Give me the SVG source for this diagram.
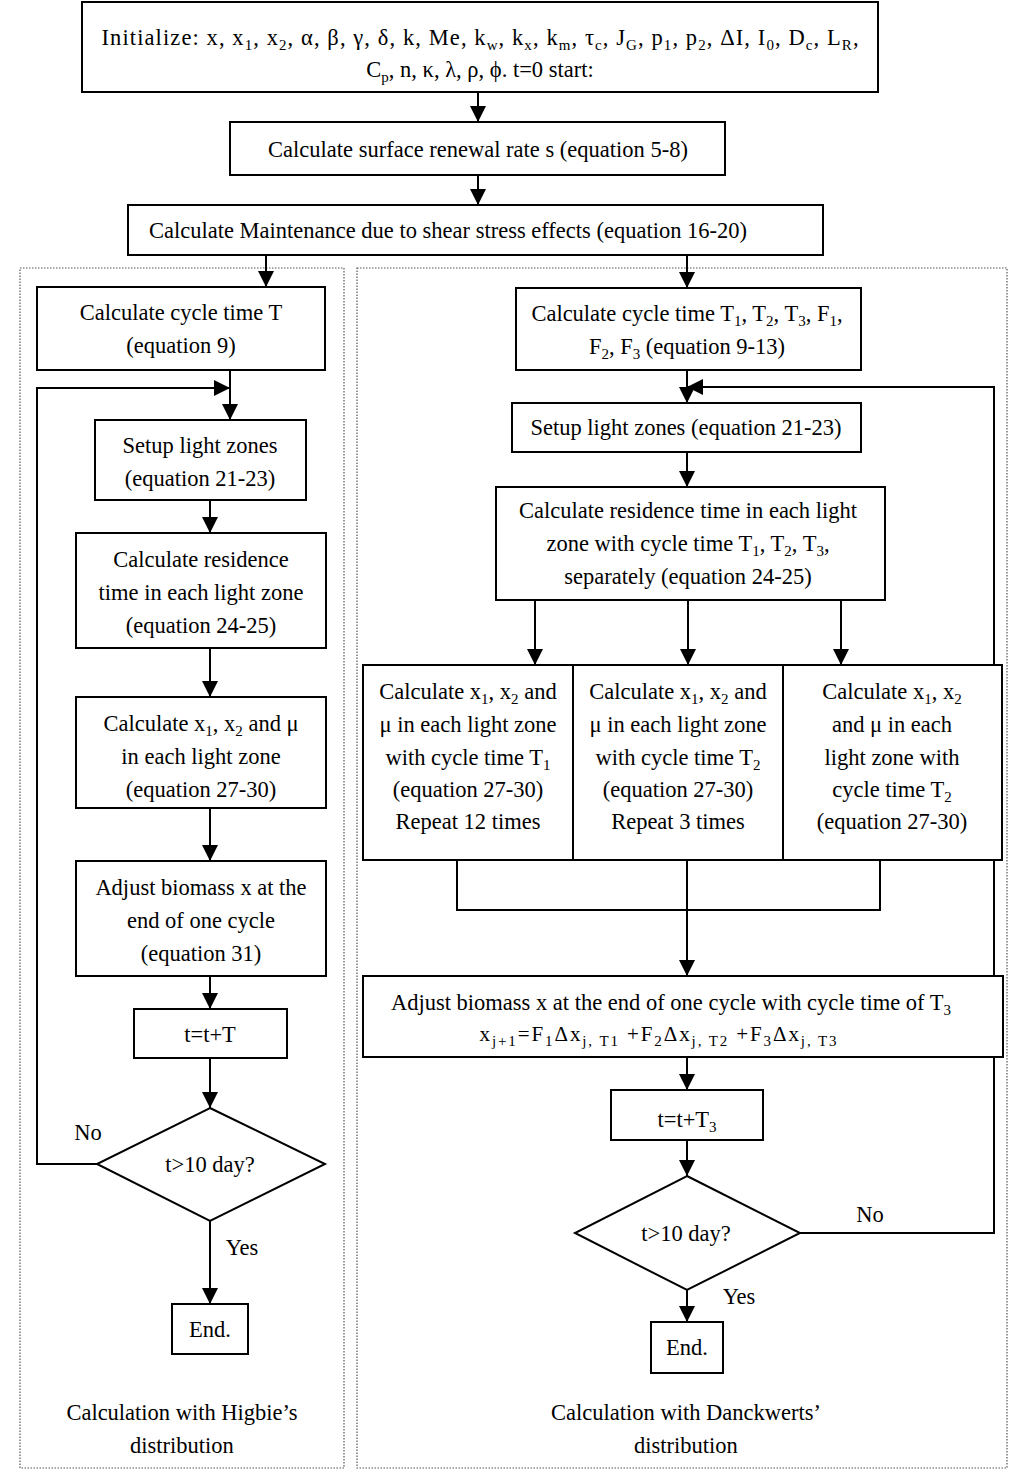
<svg xmlns="http://www.w3.org/2000/svg" width="1024" height="1481" viewBox="0 0 1024 1481">
<defs>
<marker id="ah" markerUnits="userSpaceOnUse" markerWidth="16" markerHeight="16" refX="16" refY="8" orient="auto">
<path d="M0,0 L16,8 L0,16 z" fill="#000"/>
</marker>
<style>
text{font-family:"Liberation Serif","Times New Roman",serif;font-size:22.5px;fill:#000;text-anchor:middle}
.s{font-size:15px}
.box{fill:#fff;stroke:#000;stroke-width:2}
.panel{fill:none;stroke:#555;stroke-width:1.2;stroke-dasharray:1.5,1.5}
.ln{fill:none;stroke:#000;stroke-width:2}
.ar{fill:none;stroke:#000;stroke-width:2;marker-end:url(#ah)}
.f20{font-size:21px}
</style>
</defs>
<rect width="1024" height="1481" fill="#fff"/>

<g id="panels">
<rect class="panel" x="20" y="268" width="324" height="1200"/>
<rect class="panel" x="357" y="268" width="650" height="1200"/>
</g>

<g id="connectors">
<line class="ar" x1="478" y1="92" x2="478" y2="122"/>
<line class="ar" x1="478" y1="175" x2="478" y2="205"/>
<line class="ar" x1="266" y1="255" x2="266" y2="287"/>
<line class="ar" x1="687" y1="255" x2="687" y2="288"/>
<!-- left -->
<line class="ar" x1="230" y1="370" x2="230" y2="420"/>
<polyline class="ar" points="97,1164 37,1164 37,388 230,388"/>
<line class="ar" x1="210" y1="500" x2="210" y2="533"/>
<line class="ar" x1="210" y1="648" x2="210" y2="697"/>
<line class="ar" x1="210" y1="808" x2="210" y2="861"/>
<line class="ar" x1="210" y1="976" x2="210" y2="1009"/>
<line class="ar" x1="210" y1="1058" x2="210" y2="1108"/>
<line class="ar" x1="210" y1="1221" x2="210" y2="1304"/>
<!-- right -->
<line class="ar" x1="687" y1="370" x2="687" y2="403"/>
<polyline class="ar" points="800,1233 994,1233 994,387 687,387"/>
<line class="ar" x1="687" y1="452" x2="687" y2="487"/>
<line class="ar" x1="535" y1="600" x2="535" y2="665"/>
<line class="ar" x1="688" y1="600" x2="688" y2="665"/>
<line class="ar" x1="841" y1="600" x2="841" y2="665"/>
<polyline class="ln" points="457,860 457,910 880,910 880,860"/>
<line class="ar" x1="687" y1="860" x2="687" y2="976"/>
<line class="ar" x1="687" y1="1057" x2="687" y2="1090"/>
<line class="ar" x1="687" y1="1140" x2="687" y2="1176"/>
<line class="ar" x1="687" y1="1290" x2="687" y2="1322"/>
</g>

<g id="init">
<rect class="box" x="82" y="2" width="796" height="90"/>
<text x="480" y="45" textLength="757" lengthAdjust="spacing">Initialize: x, x<tspan class="s" dy="5">1</tspan><tspan dy="-5">, x</tspan><tspan class="s" dy="5">2</tspan><tspan dy="-5">, α, β, γ, δ, k, Me, k</tspan><tspan class="s" dy="5">w</tspan><tspan dy="-5">, k</tspan><tspan class="s" dy="5">x</tspan><tspan dy="-5">, k</tspan><tspan class="s" dy="5">m</tspan><tspan dy="-5">, τ</tspan><tspan class="s" dy="5">c</tspan><tspan dy="-5">, J</tspan><tspan class="s" dy="5">G</tspan><tspan dy="-5">, p</tspan><tspan class="s" dy="5">1</tspan><tspan dy="-5">, p</tspan><tspan class="s" dy="5">2</tspan><tspan dy="-5">, ΔI, I</tspan><tspan class="s" dy="5">0</tspan><tspan dy="-5">, D</tspan><tspan class="s" dy="5">c</tspan><tspan dy="-5">, L</tspan><tspan class="s" dy="5">R</tspan><tspan dy="-5">,</tspan></text>
<text x="480" y="77">C<tspan class="s" dy="5">p</tspan><tspan dy="-5">, n, κ, λ, ρ, ϕ. t=0 start:</tspan></text>
</g>

<g id="renewal">
<rect class="box" x="230" y="122" width="495" height="53"/>
<text x="478" y="157">Calculate surface renewal rate s (equation 5-8)</text>
</g>

<g id="maintenance">
<rect class="box" x="128" y="205" width="695" height="50"/>
<text x="448" y="238">Calculate Maintenance due to shear stress effects (equation 16-20)</text>
</g>

<!-- left column -->
<g id="L-cycle">
<rect class="box" x="37" y="287" width="288" height="83"/>
<text x="181" y="320">Calculate cycle time T</text>
<text x="181" y="353">(equation 9)</text>
</g>
<g id="L-setup">
<rect class="box" x="95" y="420" width="211" height="80"/>
<text x="200" y="453">Setup light zones</text>
<text x="200" y="486">(equation 21-23)</text>
</g>
<g id="L-residence">
<rect class="box" x="76" y="533" width="250" height="115"/>
<text x="201" y="567">Calculate residence</text>
<text x="201" y="600">time in each light zone</text>
<text x="201" y="633">(equation 24-25)</text>
</g>
<g id="L-calc">
<rect class="box" x="76" y="697" width="250" height="111"/>
<text x="201" y="731">Calculate x<tspan class="s" dy="5">1</tspan><tspan dy="-5">, x</tspan><tspan class="s" dy="5">2</tspan><tspan dy="-5"> and μ</tspan></text>
<text x="201" y="764">in each light zone</text>
<text x="201" y="797">(equation 27-30)</text>
</g>
<g id="L-adjust">
<rect class="box" x="76" y="861" width="250" height="115"/>
<text x="201" y="895">Adjust biomass x at the</text>
<text x="201" y="928">end of one cycle</text>
<text x="201" y="961">(equation 31)</text>
</g>
<g id="L-time">
<rect class="box" x="134" y="1009" width="153" height="49"/>
<text x="210" y="1042">t=t+T</text>
</g>
<g id="L-decision">
<polygon class="box" points="210,1108 325,1164 210,1221 97,1164"/>
<text x="210" y="1172">t&gt;10 day?</text>
<text x="88" y="1140">No</text>
<text x="242" y="1255">Yes</text>
</g>
<g id="L-end">
<rect class="box" x="172" y="1304" width="76" height="50"/>
<text x="210" y="1337">End.</text>
</g>
<g id="L-caption">
<text x="182" y="1420">Calculation with Higbie’s</text>
<text x="182" y="1453">distribution</text>
</g>

<!-- right column -->
<g id="R-cycle">
<rect class="box" x="516" y="288" width="345" height="82"/>
<text x="687" y="321">Calculate cycle time T<tspan class="s" dy="5">1</tspan><tspan dy="-5">, T</tspan><tspan class="s" dy="5">2</tspan><tspan dy="-5">, T</tspan><tspan class="s" dy="5">3</tspan><tspan dy="-5">, F</tspan><tspan class="s" dy="5">1</tspan><tspan dy="-5">,</tspan></text>
<text x="687" y="354">F<tspan class="s" dy="5">2</tspan><tspan dy="-5">, F</tspan><tspan class="s" dy="5">3</tspan><tspan dy="-5"> (equation 9-13)</tspan></text>
</g>
<g id="R-setup">
<rect class="box" x="512" y="403" width="349" height="49"/>
<text x="686" y="435">Setup light zones (equation 21-23)</text>
</g>
<g id="R-residence">
<rect class="box" x="496" y="487" width="389" height="113"/>
<text x="688" y="518">Calculate residence time in each light</text>
<text x="688" y="551">zone with cycle time T<tspan class="s" dy="5">1</tspan><tspan dy="-5">, T</tspan><tspan class="s" dy="5">2</tspan><tspan dy="-5">, T</tspan><tspan class="s" dy="5">3</tspan><tspan dy="-5">,</tspan></text>
<text x="688" y="584">separately (equation 24-25)</text>
</g>
<g id="R-calc1">
<rect class="box" x="363" y="665" width="210" height="195"/>
<text x="468" y="699">Calculate x<tspan class="s" dy="5">1</tspan><tspan dy="-5">, x</tspan><tspan class="s" dy="5">2</tspan><tspan dy="-5"> and</tspan></text>
<text x="468" y="732">μ in each light zone</text>
<text x="468" y="765">with cycle time T<tspan class="s" dy="5">1</tspan></text>
<text x="468" y="797">(equation 27-30)</text>
<text x="468" y="829">Repeat 12 times</text>
</g>
<g id="R-calc2">
<rect class="box" x="573" y="665" width="210" height="195"/>
<text x="678" y="699">Calculate x<tspan class="s" dy="5">1</tspan><tspan dy="-5">, x</tspan><tspan class="s" dy="5">2</tspan><tspan dy="-5"> and</tspan></text>
<text x="678" y="732">μ in each light zone</text>
<text x="678" y="765">with cycle time T<tspan class="s" dy="5">2</tspan></text>
<text x="678" y="797">(equation 27-30)</text>
<text x="678" y="829">Repeat 3 times</text>
</g>
<g id="R-calc3">
<rect class="box" x="783" y="665" width="219" height="195"/>
<text x="892" y="699">Calculate x<tspan class="s" dy="5">1</tspan><tspan dy="-5">, x</tspan><tspan class="s" dy="5">2</tspan></text>
<text x="892" y="732">and μ in each</text>
<text x="892" y="765">light zone with</text>
<text x="892" y="797">cycle time T<tspan class="s" dy="5">2</tspan></text>
<text x="892" y="829">(equation 27-30)</text>
</g>
<g id="R-adjust">
<rect class="box" x="363" y="976" width="640" height="81"/>
<text x="671" y="1010">Adjust biomass x at the end of one cycle with cycle time of T<tspan class="s" dy="5">3</tspan></text>
<text x="658" y="1041" class="f20" textLength="357" lengthAdjust="spacing">x<tspan class="s" dy="5">j+1</tspan><tspan dy="-5">=F</tspan><tspan class="s" dy="5">1</tspan><tspan dy="-5">Δx</tspan><tspan class="s" dy="5">j, T1</tspan><tspan dy="-5"> +F</tspan><tspan class="s" dy="5">2</tspan><tspan dy="-5">Δx</tspan><tspan class="s" dy="5">j, T2</tspan><tspan dy="-5"> +F</tspan><tspan class="s" dy="5">3</tspan><tspan dy="-5">Δx</tspan><tspan class="s" dy="5">j, T3</tspan></text>
</g>
<g id="R-time">
<rect class="box" x="611" y="1090" width="152" height="50"/>
<text x="687" y="1127">t=t+T<tspan class="s" dy="5">3</tspan></text>
</g>
<g id="R-decision">
<polygon class="box" points="687,1176 800,1233 687,1290 575,1233"/>
<text x="686" y="1241">t&gt;10 day?</text>
<text x="870" y="1222">No</text>
<text x="739" y="1304">Yes</text>
</g>
<g id="R-end">
<rect class="box" x="651" y="1322" width="72" height="51"/>
<text x="687" y="1355">End.</text>
</g>
<g id="R-caption">
<text x="686" y="1420">Calculation with Danckwerts’</text>
<text x="686" y="1453">distribution</text>
</g>
</svg>
